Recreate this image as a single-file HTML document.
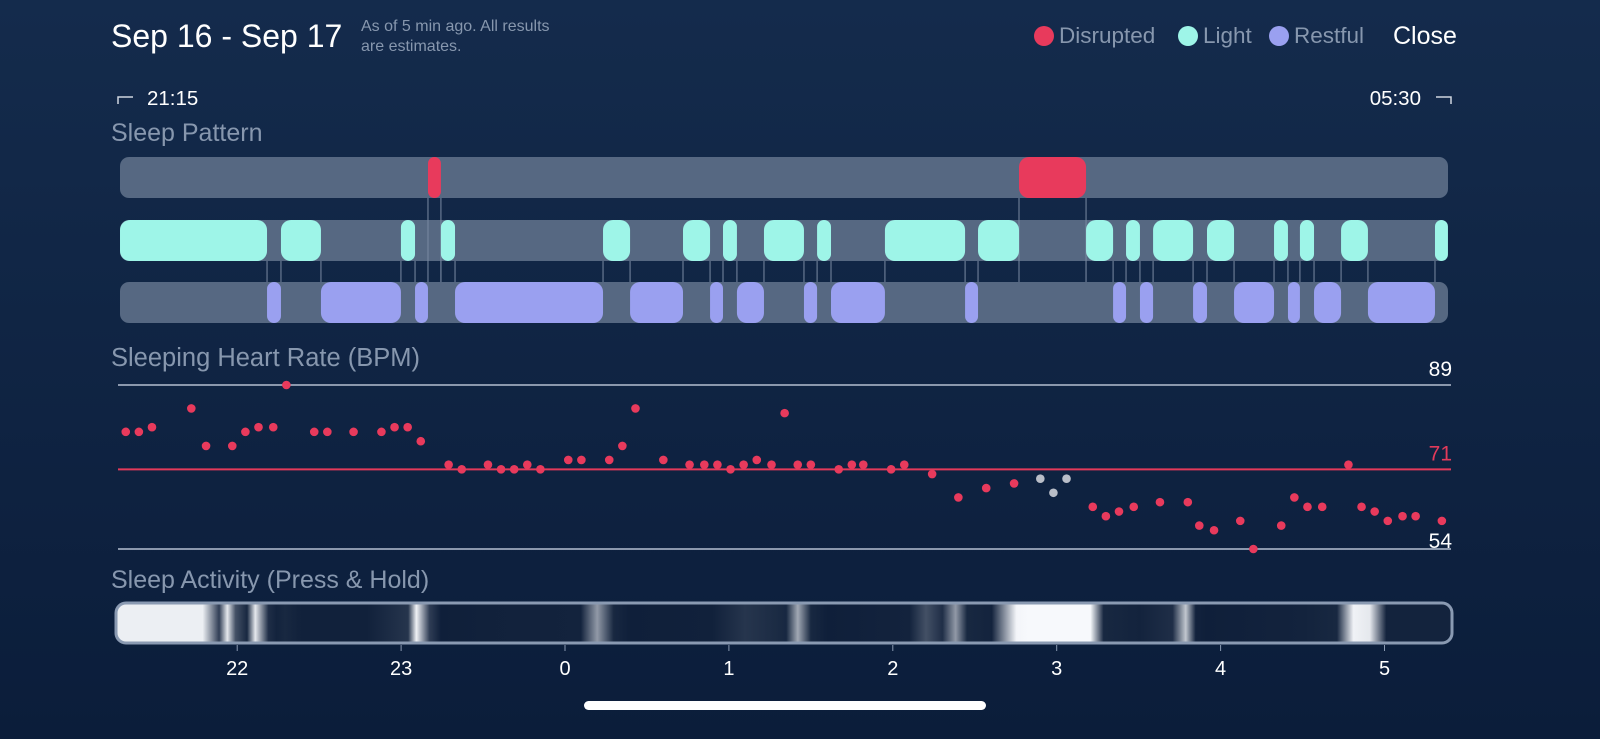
<!DOCTYPE html>
<html><head><meta charset="utf-8">
<style>
html,body{margin:0;padding:0;width:1600px;height:739px;overflow:hidden;background:#0e2140;font-family:"Liberation Sans",sans-serif;}
svg{display:block}
</style></head>
<body>
<svg id="chart" width="1600" height="739" viewBox="0 0 1600 739" xmlns="http://www.w3.org/2000/svg">
<defs>
<linearGradient id="bg" x1="0" y1="0" x2="0" y2="1">
<stop offset="0" stop-color="#142b4c"/><stop offset="1" stop-color="#0b1d3a"/>
</linearGradient>
<linearGradient id="act" x1="0" y1="0" x2="1" y2="0"></linearGradient>
</defs>
<rect x="0" y="0" width="1600" height="739" fill="url(#bg)"/>
<text x="111" y="47" font-size="32" fill="#ffffff">Sep 16 - Sep 17</text>
<text x="361" y="31" font-size="16" fill="#8797ae">As of 5 min ago. All results</text>
<text x="361" y="51" font-size="16" fill="#8797ae">are estimates.</text>
<g>
<circle cx="1044" cy="36" r="10" fill="#e83a5c"/>
<text x="1059" y="43" font-size="22.5" fill="#8797ae">Disrupted</text>
<circle cx="1188" cy="36" r="10" fill="#9ef5e8"/>
<text x="1203" y="43" font-size="22.5" fill="#8797ae">Light</text>
<circle cx="1279" cy="36" r="10" fill="#9aa0f0"/>
<text x="1294" y="43" font-size="22.5" fill="#8797ae">Restful</text>
</g>
<text x="1393" y="44" font-size="25" fill="#ffffff">Close</text>
<path d="M118 104 V97 H133" stroke="#cfd6e0" stroke-width="1.5" fill="none"/>
<text x="147" y="105" font-size="20.5" fill="#ffffff">21:15</text>
<text x="1421" y="105" font-size="20.5" fill="#ffffff" text-anchor="end">05:30</text>
<path d="M1436 97 H1451 V104" stroke="#cfd6e0" stroke-width="1.5" fill="none"/>
<text x="111" y="141" font-size="25" fill="#8797ae">Sleep Pattern</text>
<text x="111" y="366" font-size="25.5" fill="#8797ae">Sleeping Heart Rate (BPM)</text>
<text x="111" y="588" font-size="25" fill="#8797ae">Sleep Activity (Press &amp; Hold)</text>
<g id="pattern"></g>
<g id="hr"></g>
<g id="activity"></g>
<g id="axis"></g>
<rect x="584" y="701" width="402" height="9" rx="4.5" fill="#ffffff"/>
</svg>
<script>
// ---- data ----
const disruptedStart = [-0.836, 2.770];
const disruptedEnd   = [-0.757, 3.179];
const lightStart = [-2.715,-1.733,-1.001,-0.757,0.232,0.720,0.964,1.214,1.538,1.952,2.520,3.179,3.423,3.588,3.917,4.326,4.484,4.735,5.308];
const lightEnd   = [-1.818,-1.489,-0.915,-0.671,0.397,0.885,1.049,1.458,1.623,2.441,2.770,3.344,3.508,3.832,4.082,4.411,4.570,4.899,5.387];
const restfulStart = [-1.818,-1.489,-0.915,-0.671,0.397,0.885,1.049,1.458,1.623,2.441,3.344,3.508,3.832,4.082,4.411,4.570,4.899];
const restfulEnd   = [-1.733,-1.001,-0.836,0.232,0.720,0.964,1.214,1.538,1.952,2.520,3.423,3.588,3.917,4.326,4.484,4.735,5.308];
const hrTimes = [-2.68,-2.60,-2.52,-2.28,-2.19,-2.03,-1.95,-1.87,-1.78,-1.70,-1.53,-1.45,-1.29,-1.12,-1.04,-0.96,-0.88,-0.71,-0.63,-0.47,-0.39,-0.31,-0.23,-0.15,0.02,0.10,0.27,0.35,0.43,0.60,0.76,0.85,0.93,1.01,1.09,1.17,1.26,1.34,1.42,1.50,1.67,1.75,1.82,1.99,2.07,2.24,2.40,2.57,2.74,2.90,2.98,3.06,3.22,3.30,3.38,3.47,3.63,3.80,3.87,3.96,4.12,4.20,4.37,4.45,4.53,4.62,4.78,4.86,4.94,5.02,5.11,5.19,5.35];
const hrValues = [79,79,80,84,76,76,79,80,80,89,79,79,79,79,80,80,77,72,71,72,71,71,72,71,73,73,73,76,84,73,72,72,72,71,72,73,72,83,72,72,71,72,72,71,72,70,65,67,68,69,66,69,63,61,62,63,64,64,59,58,60,54,59,65,63,63,72,63,62,60,61,61,60];
const hrEstimated = [49,50,51];
const hrMax = 89, hrAvg = 71, hrMin = 54;
const tickHours = [-2,-1,0,1,2,3,4,5];
const tickLabels = ["22","23","0","1","2","3","4","5"];
const actTimes = [-2.72,-2.2,-2.1,-2.05,-2.0,-1.93,-1.88,-1.8,-1.75,-1.7,-1.6,-1.2,-0.95,-0.9,-0.82,-0.75,-0.5,0.1,0.2,0.3,0.4,0.9,1.1,1.35,1.42,1.5,1.6,2.1,2.2,2.3,2.38,2.45,2.6,2.75,2.82,3.2,3.28,3.5,3.7,3.78,3.84,3.9,4.5,4.7,4.8,4.9,5.0,5.39];
const actLevels = [0.97,0.97,0.3,0.95,0.4,0.15,0.95,0.2,0.1,0.15,0.08,0.08,0.25,0.98,0.3,0.05,0.08,0.1,0.7,0.15,0.05,0.08,0.25,0.15,0.75,0.15,0.05,0.1,0.4,0.2,0.7,0.15,0.1,0.99,1.0,1.0,0.15,0.1,0.2,0.85,0.1,0.05,0.1,0.15,0.98,0.95,0.1,0.1];

// ---- scales ----
const x = h => 565 + h*163.9;
const yHr = v => 549 - (v - hrMin)*(549-385)/(hrMax - hrMin);
const NS = "http://www.w3.org/2000/svg";
function mk(tag, attrs, parent){ const e=document.createElementNS(NS,tag); for(const k in attrs) e.setAttribute(k,attrs[k]); parent.appendChild(e); return e; }

// ---- sleep pattern ----
const pg = document.getElementById('pattern');
const rows = [157,220,282], rh = 41;
rows.forEach((ry,i)=>{
  const t = mk('rect',{x:120,y:ry,width:1328,height:rh,rx:9,fill:'#566882'},pg);
  
  
});
function connectors(starts, ends, y1, y2){
  starts.concat(ends).forEach(h=>{
    const l = mk('line',{x1:x(h),x2:x(h),y1:y1,y2:y2,stroke:'#7a8aa2','stroke-width':1},pg);
    
    
  });
}
connectors(disruptedStart, disruptedEnd, 198, 282);
connectors(lightStart.filter((h,i)=>i>0), lightEnd.filter((h,i)=>i<lightEnd.length-1), 261, 282);
function segs(starts, ends, ry, color, name){
  starts.forEach((s,i)=>{
    const w = x(ends[i]) - x(s);
    const r = mk('rect',{x:x(s),y:ry,width:w,height:rh,rx:Math.min(10,w/2),fill:color},pg);
    
    
  });
}
segs(disruptedStart, disruptedEnd, rows[0], '#e83a5c', 'disrupted-segment');
segs(lightStart, lightEnd, rows[1], '#9ef5e8', 'light-segment');
segs(restfulStart, restfulEnd, rows[2], '#9aa0f0', 'restful-segment');

// ---- heart rate ----
const hg = document.getElementById('hr');
[[hrMax,'#8b98ad','#ffffff','hr-max'],[hrAvg,'#e23a5a','#e23a5a','hr-average'],[hrMin,'#8b98ad','#ffffff','hr-min']].forEach(([v,lc,tc,n])=>{
  const l = mk('line',{x1:118,x2:1451,y1:yHr(v),y2:yHr(v),stroke:lc,'stroke-width':2},hg);
  
  
  const t = mk('text',{x:1452,y:(v===hrMin? yHr(v)-1 : yHr(v)-9),'font-size':21,fill:tc,'text-anchor':'end'},hg);
  t.textContent = v;
  
  
});
hrTimes.forEach((h,i)=>{
  const c = mk('circle',{cx:x(h),cy:yHr(hrValues[i]),r:4.3,fill: hrEstimated.includes(i)?'#b9bec8':'#e83a5c'},hg);
  
  
});

// ---- activity ----
const grad = document.getElementById('act');
const x0 = 118, x1 = 1450;
actTimes.forEach((h,i)=>{
  const v = Math.pow(actLevels[i], 1.6);
  const r = Math.round(13 + v*(247-13)), g = Math.round(29 + v*(249-29)), b = Math.round(56 + v*(252-56));
  mk('stop',{offset: Math.max(0,Math.min(1,(x(h)-x0)/(x1-x0))), 'stop-color':`rgb(${r},${g},${b})`},grad);
});
const ag = document.getElementById('activity');
const ab = mk('rect',{x:116,y:603,width:1336,height:40,rx:10,fill:'url(#act)',stroke:'#8a9ab2','stroke-width':3},ag);



// ---- axis ----
const xg = document.getElementById('axis');
tickHours.forEach((h,i)=>{
  const l = mk('line',{x1:x(h),x2:x(h),y1:645,y2:651,stroke:'#8a9ab2','stroke-width':1},xg);
  
  
  const t = mk('text',{x:x(h),y:675,'font-size':20,fill:'#ffffff','text-anchor':'middle'},xg);
  t.textContent = tickLabels[i];
  
  
});
</script>
</body></html>
